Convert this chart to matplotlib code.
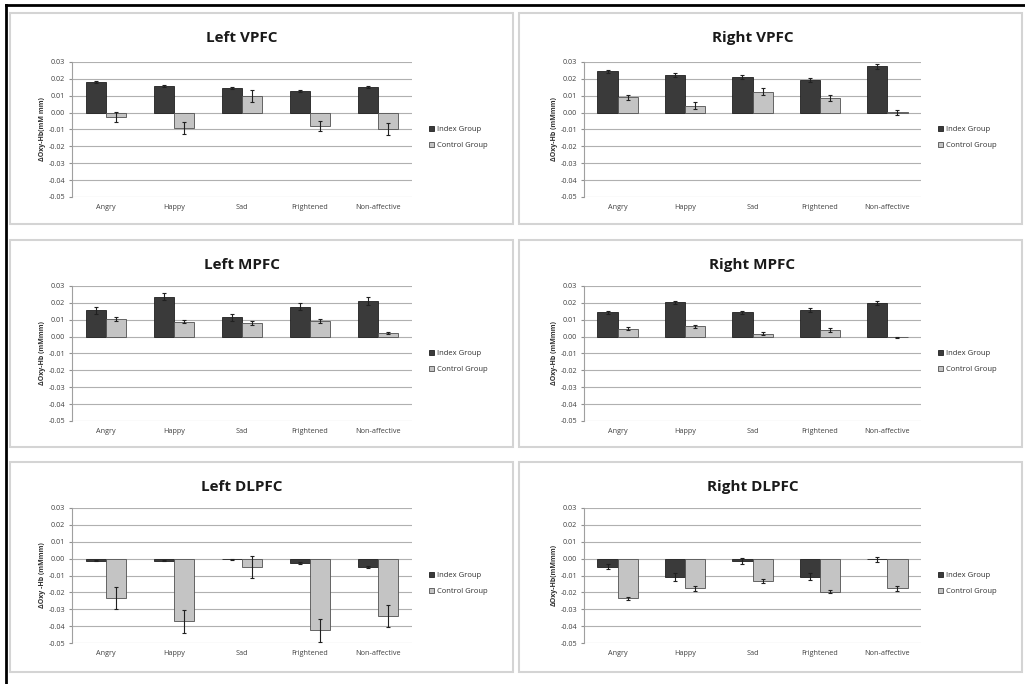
import numpy as np
import matplotlib.pyplot as plt
from matplotlib.patches import Rectangle
from matplotlib.lines import Line2D

plt.rcParams['font.family'] = ['Open Sans', 'DejaVu Sans']
plt.rcParams['axes.unicode_minus'] = False

# categories
emotions = ["Angry", "Happy", "Sad", "Frightened", "Non-affective"]
titles = ["Left VPFC", "Right VPFC", "Left MPFC", "Right MPFC", "Left DLPFC", "Right DLPFC"]
ylabels = ["\u0394Oxy-Hb(mM mm)", "\u0394Oxy-Hb (mMmm)", "\u0394Oxy-Hb (mMmm)",
           "\u0394Oxy-Hb (mMmm)", "\u0394Oxy -Hb (mMmm)", "\u0394Oxy-Hb(mMmm)"]

# valeurs (moyenne, erreur)
left_vpfc_idx = [0.0183, 0.0157, 0.0145, 0.0130, 0.0152]
left_vpfc_idx_err = [0.0005, 0.0006, 0.0006, 0.0006, 0.0006]
left_vpfc_ctl = [-0.0025, -0.0090, 0.0098, -0.0080, -0.0095]
left_vpfc_ctl_err = [0.0030, 0.0035, 0.0035, 0.0030, 0.0035]

right_vpfc_idx = [0.0245, 0.0222, 0.0210, 0.0193, 0.0275]
right_vpfc_idx_err = [0.0010, 0.0010, 0.0012, 0.0012, 0.0015]
right_vpfc_ctl = [0.0090, 0.0042, 0.0125, 0.0087, 0.0003]
right_vpfc_ctl_err = [0.0015, 0.0018, 0.0018, 0.0018, 0.0015]

left_mpfc_idx = [0.0155, 0.0237, 0.0115, 0.0178, 0.0213]
left_mpfc_idx_err = [0.0018, 0.0020, 0.0020, 0.0022, 0.0023]
left_mpfc_ctl = [0.0103, 0.0088, 0.0080, 0.0093, 0.0022]
left_mpfc_ctl_err = [0.0012, 0.0010, 0.0012, 0.0012, 0.0008]

right_mpfc_idx = [0.0143, 0.0203, 0.0143, 0.0155, 0.0198]
right_mpfc_idx_err = [0.0010, 0.0010, 0.0010, 0.0012, 0.0012]
right_mpfc_ctl = [0.0048, 0.0060, 0.0018, 0.0040, -0.0005]
right_mpfc_ctl_err = [0.0010, 0.0010, 0.0008, 0.0010, 0.0005]

left_dlpfc_idx = [-0.0012, -0.0012, -0.0005, -0.0025, -0.0048]
left_dlpfc_idx_err = [0.0005, 0.0005, 0.0005, 0.0005, 0.0006]
left_dlpfc_ctl = [-0.0235, -0.0370, -0.0050, -0.0425, -0.0340]
left_dlpfc_ctl_err = [0.0065, 0.0068, 0.0065, 0.0070, 0.0065]

right_dlpfc_idx = [-0.0048, -0.0110, -0.0015, -0.0108, -0.0005]
right_dlpfc_idx_err = [0.0015, 0.0022, 0.0018, 0.0020, 0.0015]
right_dlpfc_ctl = [-0.0235, -0.0175, -0.0135, -0.0195, -0.0175]
right_dlpfc_ctl_err = [0.0010, 0.0015, 0.0012, 0.0010, 0.0015]

index_vals = [left_vpfc_idx, right_vpfc_idx, left_mpfc_idx, right_mpfc_idx, left_dlpfc_idx, right_dlpfc_idx]
index_errs = [left_vpfc_idx_err, right_vpfc_idx_err, left_mpfc_idx_err, right_mpfc_idx_err,
              left_dlpfc_idx_err, right_dlpfc_idx_err]
control_vals = [left_vpfc_ctl, right_vpfc_ctl, left_mpfc_ctl, right_mpfc_ctl, left_dlpfc_ctl, right_dlpfc_ctl]
control_errs = [left_vpfc_ctl_err, right_vpfc_ctl_err, left_mpfc_ctl_err, right_mpfc_ctl_err,
                left_dlpfc_ctl_err, right_dlpfc_ctl_err]

yticks = [0.03, 0.02, 0.01, 0.0, -0.01, -0.02, -0.03, -0.04, -0.05]

W, H = 1025, 684
fig = plt.figure(figsize=(W / 100, H / 100), dpi=100)

# position des axes en pixels (x0, x1) et (y0, y1)
col_x = [(72, 412), (584, 921)]
row_y = [(62, 197), (286, 421), (508, 643)]
box_x = [(10, 513), (519, 1022)]
box_y = [(13, 224), (240, 447), (462, 672)]

# cadres des panneaux
for bx in box_x:
    for by in box_y:
        fig.patches.append(Rectangle((bx[0] / W, 1 - by[1] / H), (bx[1] - bx[0]) / W, (by[1] - by[0]) / H,
                                     transform=fig.transFigure, fill=False, edgecolor="#d4d4d4", lw=1.5))

# bordure noire en haut et à gauche
fig.add_artist(Line2D([6 / W, 1], [1 - 5 / H, 1 - 5 / H], transform=fig.transFigure, color="black", lw=2))
fig.add_artist(Line2D([6 / W, 6 / W], [0, 1 - 5 / H], transform=fig.transFigure, color="black", lw=2))

x = np.arange(len(emotions))
bw = 0.3

for i in range(6):
    r, c = i // 2, i % 2
    x0, x1 = col_x[c]
    y0, y1 = row_y[r]
    ax = fig.add_axes([x0 / W, 1 - y1 / H, (x1 - x0) / W, (y1 - y0) / H])

    ax.bar(x - bw / 2, index_vals[i], bw, color="#3a3a3a", edgecolor="#202020", lw=0.6,
           yerr=index_errs[i], error_kw=dict(ecolor="#202020", lw=0.8, capsize=1.6, capthick=0.8),
           label="Index Group", zorder=3)
    ax.bar(x + bw / 2, control_vals[i], bw, color="#c4c4c4", edgecolor="#505050", lw=0.6,
           yerr=control_errs[i], error_kw=dict(ecolor="#202020", lw=0.8, capsize=1.6, capthick=0.8),
           label="Control Group", zorder=3)

    ax.set_xlim(-0.5, 4.5)
    ax.set_ylim(-0.05, 0.03)
    ax.set_yticks(yticks)
    ax.set_yticklabels(["%.2f" % v for v in yticks])
    ax.set_xticks(x)
    ax.set_xticklabels(emotions)
    ax.tick_params(axis="both", labelsize=5.2, colors="#404040", length=0, pad=3)
    ax.tick_params(axis="x", pad=5)
    ax.tick_params(axis="y", length=2, color="#909090")
    ax.yaxis.grid(True, color="#b0b0b0", lw=0.8, zorder=0)
    for s in ["top", "right", "bottom"]:
        ax.spines[s].set_visible(False)
    ax.spines["left"].set_color("#a0a0a0")
    ax.set_ylabel(ylabels[i], fontsize=5, fontweight="bold", color="#303030", labelpad=2)

    fig.text((x0 + x1) / 2 / W, 1 - (box_y[r][0] + 25) / H, titles[i], ha="center", va="center",
             fontsize=11, fontweight="bold", color="#1a1a1a")

    ax.legend(loc="center left", bbox_to_anchor=(1.03, 0.44), frameon=False, fontsize=5.5,
              handlelength=0.7, handleheight=0.7, handletextpad=0.3, labelspacing=1.1,
              labelcolor="#303030")

fig.savefig("out.png", dpi=100)
